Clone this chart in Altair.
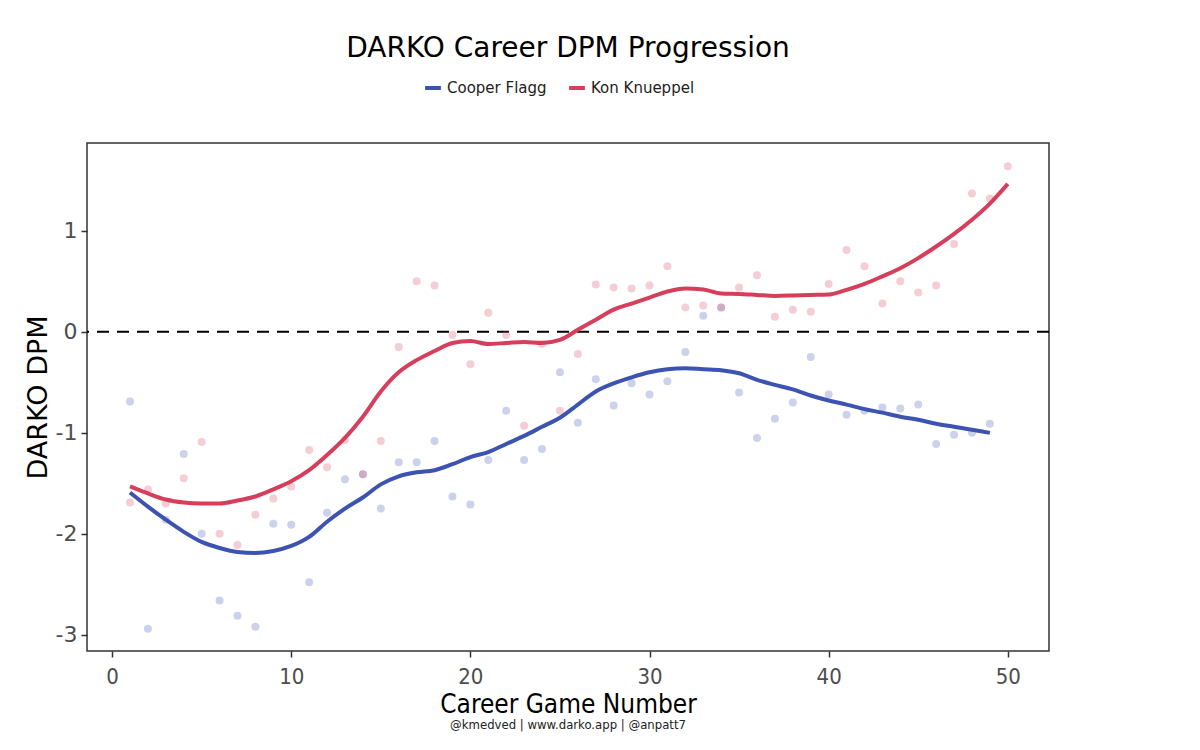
import pandas as pd
import altair as alt

# career game numbers
flagg_games = list(range(1, 50))
knueppel_games = list(range(1, 51))

# DARKO DPM by game
flagg_dpm = [
    -0.69, -2.94, -1.86, -1.21, -2.00, -2.66, -2.81, -2.92, -1.90, -1.91,
    -2.48, -1.79, -1.46, -1.41, -1.75, -1.29, -1.29, -1.08, -1.63, -1.71,
    -1.27, -0.78, -1.27, -1.16, -0.40, -0.90, -0.47, -0.73, -0.51, -0.62,
    -0.49, -0.20, 0.16, 0.24, -0.60, -1.05, -0.86, -0.70, -0.25, -0.62,
    -0.82, -0.78, -0.75, -0.76, -0.72, -1.11, -1.02, -1.00, -0.91,
]
knueppel_dpm = [
    -1.69, -1.56, -1.70, -1.45, -1.09, -2.00, -2.11, -1.81, -1.65, -1.53,
    -1.17, -1.34, -1.07, -1.41, -1.08, -0.15, 0.50, 0.46, -0.03, -0.32,
    0.19, -0.03, -0.93, -0.12, -0.78, -0.22, 0.47, 0.44, 0.43, 0.46,
    0.65, 0.24, 0.26, 0.24, 0.44, 0.56, 0.15, 0.22, 0.20, 0.475,
    0.81, 0.65, 0.28, 0.50, 0.39, 0.46, 0.87, 1.37, 1.32, 1.64,
]

# smoothed trend lines at each game
flagg_smooth = [
    -1.59, -1.73, -1.86, -1.98, -2.08, -2.14, -2.18, -2.19, -2.17, -2.12,
    -2.03, -1.88, -1.75, -1.64, -1.51, -1.43, -1.39, -1.37, -1.31, -1.24,
    -1.19, -1.11, -1.03, -0.94, -0.85, -0.72, -0.59, -0.51, -0.45, -0.40,
    -0.37, -0.36, -0.37, -0.38, -0.41, -0.475, -0.525, -0.57, -0.63, -0.68,
    -0.72, -0.765, -0.80, -0.84, -0.87, -0.91, -0.94, -0.97, -1.00,
]
knueppel_smooth = [
    -1.53, -1.60, -1.66, -1.69, -1.70, -1.70, -1.67, -1.63, -1.56, -1.48,
    -1.37, -1.22, -1.05, -0.84, -0.59, -0.40, -0.28, -0.19, -0.11, -0.09,
    -0.12, -0.11, -0.10, -0.11, -0.08, 0.02, 0.12, 0.22, 0.28, 0.34,
    0.40, 0.43, 0.42, 0.38, 0.376, 0.366, 0.356, 0.36, 0.366, 0.37,
    0.416, 0.475, 0.55, 0.63, 0.73, 0.845, 0.97, 1.11, 1.27, 1.465,
]

players = ['Cooper Flagg', 'Kon Knueppel']
player_colors = ['#3D53B2', '#D53F5B']

df = pd.concat([
    pd.DataFrame({'game': flagg_games, 'dpm': flagg_dpm, 'fit': flagg_smooth, 'player': players[0]}),
    pd.DataFrame({'game': knueppel_games, 'dpm': knueppel_dpm, 'fit': knueppel_smooth, 'player': players[1]}),
])

FONT = 'DejaVu Sans'
NARROW = 'Liberation Sans Narrow, DejaVu Sans Condensed, sans-serif'

x = alt.X(
    'game:Q',
    scale=alt.Scale(domain=[-1.4, 52.3], nice=False, zero=False),
    axis=alt.Axis(
        title='Career Game Number', values=[0, 10, 20, 30, 40, 50],
        grid=False, domain=False, tickColor='#333333', tickSize=6, tickWidth=1.5,
        labelFontSize=22, labelColor='#4d4d4d', labelFont=NARROW, labelPadding=9,
        titleFontSize=26, titleFontWeight='normal', titleFont=NARROW, titleColor='black',
        titlePadding=4
    )
)
y = alt.Y(
    'dpm:Q',
    scale=alt.Scale(domain=[-3.16, 1.87], nice=False, zero=False),
    axis=alt.Axis(
        title='DARKO DPM', values=[-3, -2, -1, 0, 1], labelExpr="'' + datum.value",
        grid=False, domain=False, tickColor='#333333', tickSize=6, tickWidth=1.5,
        labelFontSize=22, labelColor='#4d4d4d', labelFont=FONT, labelPadding=4,
        titleFontSize=27, titleFontWeight='normal', titleFont=FONT, titleColor='black',
        titlePadding=3
    )
)
color = alt.Color(
    'player:N',
    scale=alt.Scale(domain=players, range=player_colors),
    legend=alt.Legend(
        title=None, orient='none', direction='horizontal', legendX=336, legendY=-65,
        symbolType='stroke', symbolStrokeWidth=4, symbolSize=250, symbolOpacity=1,
        labelFontSize=15, labelFont=FONT, labelColor='#222222', columnPadding=14
    )
)

base = alt.Chart(df)

points = base.mark_circle(size=64, opacity=0.26).encode(x=x, y=y, color=color)

smooth = base.mark_line(strokeWidth=4, interpolate='monotone').encode(
    x=x, y=alt.Y('fit:Q'), color=color
)

zero_line = alt.Chart(pd.DataFrame({'dpm': [0]})).mark_rule(
    color='black', strokeDash=[12, 8], strokeWidth=2
).encode(y='dpm:Q')

title = alt.Chart(pd.DataFrame({'t': ['DARKO Career DPM Progression']})).mark_text(
    fontSize=28, font=FONT, color='black'
).encode(text='t:N', x=alt.value(481), y=alt.value(-94))

caption = alt.Chart(pd.DataFrame({'t': ['@kmedved | www.darko.app | @anpatt7']})).mark_text(
    fontSize=13, font=NARROW, color='#222222'
).encode(text='t:N', x=alt.value(481), y=alt.value(582))

chart = (zero_line + points + smooth + title + caption).properties(
    width=962,
    height=508,
    autosize=alt.AutoSizeParams(type='none'),
    padding={'left': 79, 'top': 135, 'right': 130, 'bottom': 95},
).configure_view(
    stroke='#333333', strokeWidth=1.5
)

chart.save('out.html', embed_options={'renderer': 'svg', 'actions': False})
